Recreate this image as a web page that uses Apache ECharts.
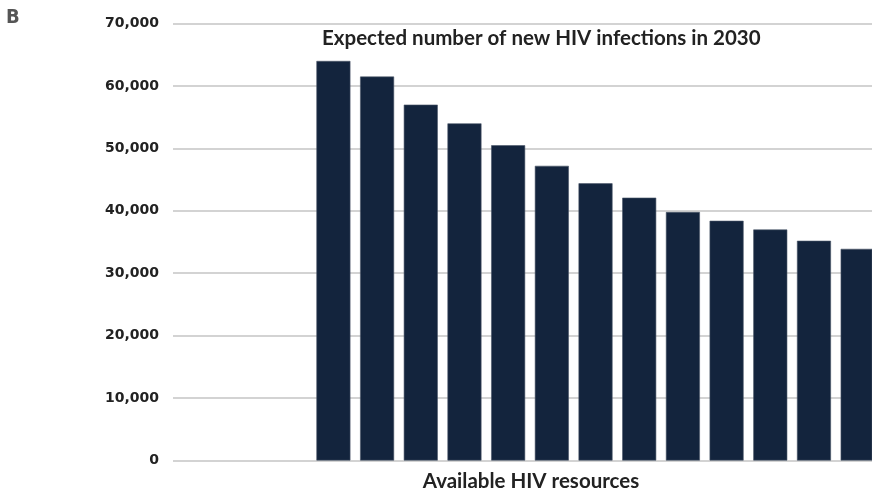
<!DOCTYPE html>
<html>
<head>
<meta charset="utf-8">
<script src="https://cdn.jsdelivr.net/npm/echarts@6/dist/echarts.min.js"></script>
<style>
html,body{margin:0;padding:0;background:#fff;}
#chart{width:872px;height:490px;}
</style>
</head>
<body>
<div id="chart"></div>
<script>
// Data
const emptySlots = ['', ' ', '  '];
const resourceLevels = ['L1','L2','L3','L4','L5','L6','L7','L8','L9','L10','L11','L12','L13'];
const newInfections2030 = [64000, 61500, 57000, 54000, 50500, 47200, 44400, 42100, 39800, 38400, 37000, 35200, 33900];
const yTicks = [0, 10000, 20000, 30000, 40000, 50000, 60000, 70000];
const chartTitle = 'Expected number of new HIV infections in 2030';
const xTitle = 'Available HIV resources';
const panelLabel = 'B';

const categories = emptySlots.concat(resourceLevels);
const seriesData = emptySlots.map(() => '-').concat(newInfections2030);

const chart = echarts.init(document.getElementById('chart'), null, {renderer: 'canvas'});
chart.setOption({
  animation: false,
  backgroundColor: '#ffffff',
  grid: {left: 173, top: 23.5, bottom: 29.5, right: 0, containLabel: false},
  xAxis: {
    type: 'category',
    data: categories,
    axisLine: {show: false},
    axisTick: {show: false},
    axisLabel: {show: false}
  },
  yAxis: {
    type: 'value',
    min: yTicks[0],
    max: yTicks[yTicks.length - 1],
    interval: yTicks[1] - yTicks[0],
    axisLine: {show: false},
    axisTick: {show: false},
    splitLine: {lineStyle: {color: '#c4c4c4', width: 1.5}},
    axisLabel: {
      margin: 14,
      color: '#222',
      fontFamily: 'DejaVu Sans',
      fontWeight: 'bold',
      fontSize: 14,
      formatter: v => v.toLocaleString('en-US')
    }
  },
  series: [
    {type: 'bar', name: 'spacer', data: [], barWidth: 15, barGap: '0%'},
    {
      type: 'bar',
      name: 'New HIV infections',
      data: seriesData,
      barWidth: 34,
      barGap: '0%',
      itemStyle: {color: '#13243d', borderColor: '#4a5568', borderWidth: 0.6}
    }
  ],
  graphic: [
    {type: 'text', left: 6, top: 8, style: {text: panelLabel, font: 'bold 20px "Liberation Sans Narrow", "DejaVu Sans Condensed"', fill: '#555'}},
    {type: 'text', x: 322, y: 38, style: {text: chartTitle, font: 'bold 20.5px Lato', fill: '#222', textVerticalAlign: 'middle'}},
    {type: 'text', x: 531, y: 481, style: {text: xTitle, font: 'bold 20.5px Lato', fill: '#222', textAlign: 'center', textVerticalAlign: 'middle'}}
  ]
});
</script>
</body>
</html>
